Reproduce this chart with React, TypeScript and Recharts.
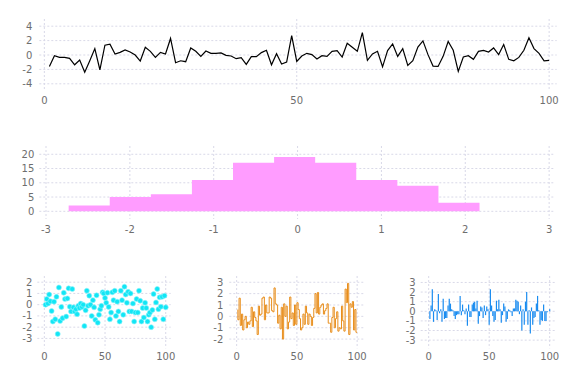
import {
  ComposedChart,
  Line,
  Area,
  Bar,
  Scatter,
  XAxis,
  YAxis,
  CartesianGrid,
} from "recharts";

// top: line series
const lineValues = [
  -1.6, -0.1, -0.33, -0.33, -0.47, -1.36, -0.7, -2.4, -0.8, 0.89,
  -2.05, 1.36, 1.5, 0.14, 0.37, 0.7, 0.42, 0.0, -0.84, 1.07,
  0.5, -0.33, 0.37, 0.14, 2.3, -1.07, -0.8, -0.93, 0.98, 0.51,
  -0.19, 0.56, 0.23, 0.23, 0.28, -0.05, -0.14, -0.51, -0.37, -1.3,
  -0.23, -0.23, 0.33, 0.65, -1.36, 0.19, -1.26, -0.98, 2.7, -0.9,
  -0.14, 0.23, 0.05, -0.56, -0.09, -0.19, 0.51, 0.61, -0.28, 1.64,
  1.07, 0.51, 3.1, -0.75, 0.14, 0.51, -1.64, 0.61, 1.54, -0.19,
  0.89, -1.45, -0.8, 1.1, 1.96, 0.05, -1.54, -1.59, -0.19, 1.87,
  0.65, -2.29, -0.28, -0.09, -0.6, 0.51, 0.65, 0.42, 0.98, 0.05,
  1.45, -0.6, -0.8, -0.33, 0.65, 2.38, 0.89, 0.23, -0.8, -0.75,
];

// middle: histogram
const binEdges = [-2.73, -2.24, -1.75, -1.26, -0.77, -0.28, 0.21, 0.7, 1.19, 1.68, 2.17];
const binCounts = [2, 5, 6, 11, 17, 19, 17, 11, 9, 3];

// bottom left: scatter
const scatterValues = [
  0, 0.5, 0.1, 0.9, 0.3, -0.56, -1.5, 0.27, -1.3, 0.7,
  -2.6, 1.53, -1.45, -0.2, -1.2, 1.06, 0.5, -1.06, 0.56, 1.45,
  -0.18, -0.6, 1.39, -0.24, -0.6, -0.4, -0.85, -0.1, -0.3, 0.1,
  -0.2, 0, -1.9, -0.5, 1.24, -0.1, 0.8, 0, -1.0, 0.4,
  -0.24, -1.35, 0.83, -1.6, -0.9, -0.4, -0.1, 1.1, 1.0, 0.6,
  0.17, 1.06, -0.2, -1.3, -0.7, 1.1, 0.4, 1.24, -1.0, 0.27,
  -0.6, -1.5, 1.24, 0.4, -0.9, 1.6, 0.9, 0.17, 1.15, -0.6,
  1.0, -0.6, 0.1, -1.5, -0.7, 0.5, -0.7, 1.24, 0.35, -1.5,
  -0.3, -1.15, 0.17, -0.3, -1.5, -0.9, -0.7, -2.0, -0.47, 0.94,
  -1.3, 0.2, 1.4, -0.4, 0.65, -0.18, 0.7, -1.3, 0.8, -0.24,
];

// bottom middle: steps
const stepValues = [
  0.6, -0.3, 1.6, -0.8, 0.2, -1.2, -0.3, 0.0, -1.0, -0.5,
  -0.7, -0.4, 0.8, -0.9, 0.4, -0.1, -0.4, -1.6, 0.9, 0.1,
  0.2, 1.6, 1.7, -0.3, 1.0, 0.3, 0.3, 1.7, 1.6, 0.5,
  0.4, 2.5, 1.1, 1.0, -0.6, 0.1, -1.1, 0.8, -2.0, 1.1,
  0.0, 0.9, -1.1, -0.5, 1.7, -0.2, 0.3, -0.8, 1.0, -0.7,
  1.2, 0.6, -0.2, -1.2, -1.0, 0.2, -0.7, 0.9, 0.3, -0.7,
  0.2, 0.0, -0.8, -0.1, 0.7, 2.0, 0.3, 2.1, 0.2, 0.8,
  1.0, 1.1, 0.2, 0.5, 0.7, 1.1, -0.6, -0.6, -1.4, -0.1,
  0.8, -1.0, -0.2, 0.4, -1.3, -1.0, -1.1, 0.9, -0.4, -1.3,
  2.4, 1.2, 2.9, -1.6, 1.1, 0.8, 1.3, -1.2, 0.6, -1.4,
];

// bottom right: bars
const barValues = [
  -0.8, 0.6, 2.3, -1.1, 0.2, 0.1, -0.9, 1.8, -0.2, 0.2,
  -1.1, 1.3, -0.8, -0.7, -0.7, 0.6, 1.3, 0.8, 0.2, 0.1,
  -0.5, -0.8, -0.4, -0.3, -0.3, 1.6, -0.4, 0.7, 0.1, -0.3,
  0.3, -1.5, 0.7, -0.6, -0.6, 0.7, 0.9, 1.0, 0.3, 1.1,
  -1.3, -0.5, 0.5, 0.4, -0.7, 0.6, -0.4, 0.5, 0.2, -1.4,
  2.3, 0.6, -0.5, -1.1, -0.9, 1.1, 0.2, 1.2, 0.2, -1.2,
  -0.4, 0.8, 0.5, -1.1, -0.8, 0.2, 0.1, -0.1, -0.5, 0.3,
  0.3, 1.2, 1.1, 1.0, -0.3, 0.6, -2.0, 0.2, -1.4, 1.0,
  2.0, -1.4, 0.1, -2.3, 0.4, -1.4, -0.7, -0.6, 0.8, 1.6,
  0.1, -1.4, -0.9, -1.0, 0.7, -1.0, -1.0, -0.1, 0.0, 0.2,
];

const xTicks100 = [0, 50, 100];

const toSeries = (vals: number[]) => vals.map((v, i) => ({ x: i + 1, v }));

const histData = binEdges.map((e, k) => ({
  x: e,
  count: binCounts[Math.min(k, binCounts.length - 1)],
}));

const tickStyle = { fontSize: 10, fill: "#6e6e6e", fontFamily: "DejaVu Sans" };
const gridProps = { stroke: "#d9d9e8", strokeDasharray: "2 2" };
const axisCommon = { tick: tickStyle, tickLine: false, axisLine: false, interval: 0 as const };

const dot = (props: any) => (
  <circle cx={props.cx} cy={props.cy} r={2.5} fill="#12e6f5" stroke="#8ff4fb" strokeWidth={0.6} />
);

export default function App() {
  return (
    <div style={{ position: "absolute", left: 0, top: 0, width: 576, height: 384, background: "#fff" }}>
      <div style={{ position: "absolute", left: 0, top: 0 }}>
        <ComposedChart width={576} height={115} data={toSeries(lineValues)}
          margin={{ top: 19, right: 19.3, bottom: 4, left: 9.3 }}>
          <CartesianGrid {...gridProps} verticalValues={xTicks100} horizontalValues={[-4, -2, 0, 2, 4]} />
          <XAxis dataKey="x" type="number" domain={[-1, 101.5]} ticks={xTicks100} height={20}
            {...axisCommon} tickSize={6} tickMargin={0} />
          <YAxis type="number" domain={[-5, 5]} ticks={[-4, -2, 0, 2, 4]} width={30}
            {...axisCommon} tickSize={6} tickMargin={1} />
          <Line dataKey="v" stroke="#000" strokeWidth={1.2} dot={false} isAnimationActive={false} />
        </ComposedChart>
      </div>

      <div style={{ position: "absolute", left: 0, top: 120 }}>
        <ComposedChart width={576} height={115} data={histData}
          margin={{ top: 26, right: 21, bottom: 0, left: 9.3 }}>
          <CartesianGrid {...gridProps} verticalValues={[-3, -2, -1, 0, 1, 2, 3]} horizontalValues={[0, 5, 10, 15, 20]} />
          <XAxis dataKey="x" type="number" domain={[-3.08, 3.07]} ticks={[-3, -2, -1, 0, 1, 2, 3]} height={16}
            {...axisCommon} tickSize={6} tickMargin={1} />
          <YAxis type="number" domain={[-2.7, 22.9]} ticks={[0, 5, 10, 15, 20]} width={30}
            {...axisCommon} tickSize={4} tickMargin={1} />
          <Area dataKey="count" type="stepAfter" fill="#ff9cff" fillOpacity={1} stroke="none" isAnimationActive={false} />
        </ComposedChart>
      </div>

      <div style={{ position: "absolute", left: 0, top: 260 }}>
        <ComposedChart width={576} height={124} data={toSeries(scatterValues)}
          margin={{ top: 16, right: 405.3, bottom: 15.7, left: 7.3 }}>
          <CartesianGrid {...gridProps} verticalValues={xTicks100} horizontalValues={[-3, -2, -1, 0, 1, 2]} />
          <XAxis dataKey="x" type="number" domain={[-5.8, 104.1]} ticks={xTicks100} height={20}
            {...axisCommon} tickSize={5} tickMargin={0} />
          <YAxis type="number" domain={[-3.88, 2.55]} ticks={[-3, -2, -1, 0, 1, 2]} width={30}
            {...axisCommon} tickSize={4} tickMargin={1} />
          <Scatter dataKey="v" shape={dot} isAnimationActive={false} />
        </ComposedChart>
      </div>

      <div style={{ position: "absolute", left: 0, top: 260 }}>
        <ComposedChart width={576} height={124} data={toSeries(stepValues)}
          margin={{ top: 16, right: 212.7, bottom: 15.7, left: 199.3 }}>
          <CartesianGrid {...gridProps} verticalValues={xTicks100} horizontalValues={[-2, -1, 0, 1, 2, 3]} />
          <XAxis dataKey="x" type="number" domain={[-6.1, 105.1]} ticks={xTicks100} height={20}
            {...axisCommon} tickSize={5} tickMargin={0} />
          <YAxis type="number" domain={[-2.81, 3.55]} ticks={[-2, -1, 0, 1, 2, 3]} width={30}
            {...axisCommon} tickSize={5} tickMargin={1} />
          <Line dataKey="v" type="stepBefore" stroke="#e88e1c" strokeWidth={1} dot={false} isAnimationActive={false} />
        </ComposedChart>
      </div>

      <div style={{ position: "absolute", left: 0, top: 260 }}>
        <ComposedChart width={576} height={124} data={toSeries(barValues)}
          margin={{ top: 16, right: 21, bottom: 15.7, left: 390.7 }}>
          <CartesianGrid {...gridProps} verticalValues={xTicks100} horizontalValues={[-3, -2, -1, 0, 1, 2, 3]} />
          <XAxis dataKey="x" type="number" domain={[-6.6, 104.4]} ticks={xTicks100} height={20}
            {...axisCommon} tickSize={5} tickMargin={0} />
          <YAxis type="number" domain={[-3.85, 3.67]} ticks={[-3, -2, -1, 0, 1, 2, 3]} width={30}
            {...axisCommon} tickSize={4} tickMargin={1} />
          <Bar dataKey="v" fill="#1a8cf0" barSize={1.2} isAnimationActive={false} />
        </ComposedChart>
      </div>
    </div>
  );
}
